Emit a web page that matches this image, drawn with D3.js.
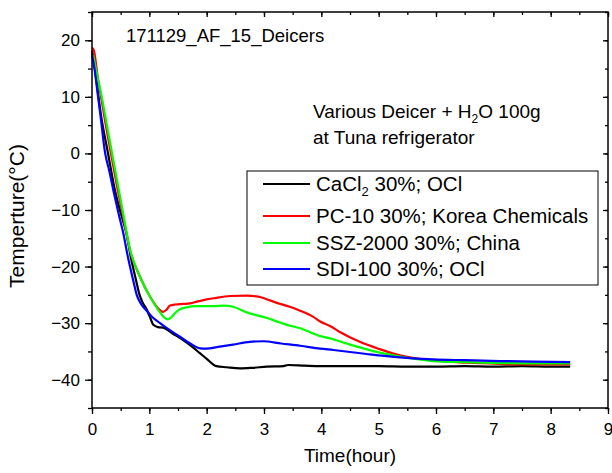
<!DOCTYPE html>
<html><head><meta charset="utf-8">
<script src="https://cdn.jsdelivr.net/npm/d3@7"></script>
<style>
body{margin:0;background:#fff;}
text{font-family:"Liberation Sans",Arial,sans-serif;fill:#000;}
</style></head>
<body><svg id="c" width="612" height="473"></svg>
<script>
// ---- data ----
const xTicks = [0,1,2,3,4,5,6,7,8,9];
const yTicks = [-40,-30,-20,-10,0,10,20];
const seriesNames = ["CaCl2 30%; OCl","PC-10 30%; Korea Chemicals","SSZ-2000 30%; China","SDI-100 30%; OCl"];
const seriesColors = ["#000000","#ff0000","#00ff00","#0000ff"];

const blackTime = [0,0.05,0.1,0.15,0.28,0.4,0.5,0.6,0.68,0.77,0.83,0.88,0.95,1.01,1.07,1.15,1.24,1.4,1.59,1.75,1.88,2.0,2.17,2.35,2.58,2.8,3.05,3.34,3.42,3.7,3.98,4.5,5.0,5.5,6.0,6.5,7.0,7.5,8.0,8.34];
const blackTemp = [18.2,15,11,7.2,0,-6.5,-10.5,-14.1,-18.5,-22.5,-25,-26.3,-27.5,-28.9,-30.3,-30.7,-30.8,-31.8,-33,-34.2,-35.3,-36.3,-37.6,-37.8,-38.0,-37.9,-37.7,-37.6,-37.4,-37.5,-37.6,-37.6,-37.6,-37.7,-37.7,-37.6,-37.7,-37.6,-37.7,-37.7];

const redTime = [0,0.03,0.1,0.157,0.25,0.33,0.45,0.55,0.663,0.837,1.01,1.186,1.24,1.3,1.36,1.45,1.6,1.71,1.83,2.0,2.12,2.41,2.7,2.9,3.0,3.28,3.45,3.63,3.86,3.98,4.15,4.33,4.67,5.02,5.37,5.95,6.54,7.12,7.7,8.34];
const redTemp = [18.7,18.3,13.5,10,4.5,0,-6.5,-11.5,-17.1,-21.8,-25.3,-27.7,-28.0,-27.6,-26.9,-26.7,-26.6,-26.5,-26.2,-25.8,-25.6,-25.2,-25.15,-25.3,-25.6,-26.6,-27.1,-27.8,-28.9,-29.7,-30.5,-31.6,-33.3,-34.6,-35.7,-36.6,-37.0,-37.2,-37.3,-37.3];

const greenTime = [0.02,0.1,0.17,0.26,0.35,0.45,0.55,0.663,0.837,1.01,1.15,1.25,1.32,1.38,1.45,1.535,1.65,1.83,2.12,2.29,2.46,2.7,3.05,3.28,3.4,3.63,3.98,4.15,4.5,5.02,5.55,5.95,6.5,7.12,7.7,8.34];
const greenTemp = [17.4,13.3,10,5,0,-5.5,-11,-17,-21.8,-25.3,-27.6,-28.9,-29.35,-29,-28.2,-27.55,-27.2,-27.0,-27.0,-26.9,-27.1,-28.1,-29.1,-29.9,-30.3,-30.9,-32.3,-32.7,-33.8,-35.2,-36.2,-36.7,-36.9,-37.05,-37.1,-37.1];

const blueTime = [0,0.05,0.1,0.15,0.23,0.3,0.372,0.46,0.546,0.63,0.72,0.78,0.837,0.9,0.954,1.05,1.186,1.35,1.535,1.7,1.884,2.0,2.2,2.46,2.75,2.99,3.3,3.63,3.98,4.21,4.5,4.79,5.1,5.37,5.95,6.5,7.12,7.7,8.34];
const blueTemp = [17.5,14.5,10.5,6.5,0,-3,-6.5,-10.5,-14.1,-18.5,-22.5,-25,-26.3,-27.2,-27.8,-28.9,-30,-31.2,-32.4,-33.5,-34.45,-34.5,-34.2,-33.8,-33.3,-33.2,-33.6,-34.0,-34.5,-34.75,-35.1,-35.45,-35.8,-36.04,-36.4,-36.55,-36.7,-36.8,-36.9];

const series = [
  {time: blackTime, temp: blackTemp},
  {time: redTime, temp: redTemp},
  {time: greenTime, temp: greenTemp},
  {time: blueTime, temp: blueTemp}
];

// ---- layout ----
const L = 92, R = 608, T = 12, B = 408;
const svg = d3.select("#c");
const x = d3.scaleLinear().domain([0,9]).range([L,R]);
const y = d3.scaleLinear().domain([-45,25]).range([B,T]);

const minorX = d3.range(0,9.01,0.5);
const minorY = d3.range(-45,25.01,5);

// minor ticks
svg.append("g").attr("transform",`translate(0,${B})`)
  .call(d3.axisBottom(x).tickValues(minorX).tickSize(3).tickFormat(""))
  .call(g=>g.select(".domain").remove());
svg.append("g").attr("transform",`translate(${L},0)`)
  .call(d3.axisLeft(y).tickValues(minorY).tickSize(4).tickFormat(""))
  .call(g=>g.select(".domain").remove());
svg.append("g").attr("transform",`translate(0,${T})`)
  .call(d3.axisTop(x).tickValues(minorX).tickSize(-3).tickFormat(""))
  .call(g=>g.select(".domain").remove());
svg.append("g").attr("transform",`translate(${R},0)`)
  .call(d3.axisRight(y).tickValues(minorY).tickSize(-3).tickFormat(""))
  .call(g=>g.select(".domain").remove());

// major ticks
const gx = svg.append("g").attr("transform",`translate(0,${B})`)
  .call(d3.axisBottom(x).tickValues(xTicks).tickSize(6).tickPadding(9).tickFormat(d3.format("d")));
gx.select(".domain").remove();
const gy = svg.append("g").attr("transform",`translate(${L},0)`)
  .call(d3.axisLeft(y).tickValues(yTicks).tickSize(7).tickPadding(5).tickFormat(d3.format("d")));
gy.select(".domain").remove();
svg.append("g").attr("transform",`translate(0,${T})`)
  .call(d3.axisTop(x).tickValues(xTicks).tickSize(-5).tickFormat(""))
  .call(g=>g.select(".domain").remove());
svg.append("g").attr("transform",`translate(${R},0)`)
  .call(d3.axisRight(y).tickValues(yTicks).tickSize(-5).tickFormat(""))
  .call(g=>g.select(".domain").remove());
svg.selectAll(".tick line").attr("stroke","#000").attr("stroke-width",1.3);
svg.selectAll(".tick text").attr("font-size",17).attr("font-family","Liberation Sans, Arial, sans-serif");

// curves
const line = d3.line().x(d=>x(d[0])).y(d=>y(d[1])).curve(d3.curveMonotoneX);
series.forEach((s,i)=>{
  const pts = s.time.map((t,k)=>[t,s.temp[k]]);
  svg.append("path").datum(pts).attr("d",line)
    .attr("fill","none").attr("stroke",seriesColors[i]).attr("stroke-width",2.2)
    .attr("stroke-linejoin","round");
});

// frame
svg.append("rect").attr("x",L).attr("y",T).attr("width",R-L).attr("height",B-T)
  .attr("fill","none").attr("stroke","#000").attr("stroke-width",1.5);

// axis titles
svg.append("text").attr("x",(L+R)/2).attr("y",462).attr("text-anchor","middle")
  .attr("font-size",19).text("Time(hour)");
svg.append("text").attr("transform","translate(24,216) rotate(-90)").attr("text-anchor","middle")
  .attr("font-size",21).text("Temperture(°C)");

// title text
svg.append("text").attr("x",126).attr("y",42).attr("font-size",18.5).text("171129_AF_15_Deicers");

// annotation
const a1 = svg.append("text").attr("x",313).attr("y",118).attr("font-size",19);
a1.append("tspan").text("Various Deicer + H");
a1.append("tspan").attr("font-size",12).attr("dy",5).text("2");
a1.append("tspan").attr("dy",-5).text("O 100g");
svg.append("text").attr("x",313).attr("y",144).attr("font-size",19).text("at Tuna refrigerator");

// legend
svg.append("rect").attr("x",247).attr("y",171).attr("width",351).attr("height",114)
  .attr("fill","#fff").attr("stroke","#000").attr("stroke-width",1);
const rowY = [184,216,243,269];
seriesNames.forEach((n,i)=>{
  svg.append("line").attr("x1",263).attr("x2",310).attr("y1",rowY[i]).attr("y2",rowY[i])
    .attr("stroke",seriesColors[i]).attr("stroke-width",2);
  const t = svg.append("text").attr("x",316).attr("y",rowY[i]+7).attr("font-size",20.5);
  if(i===0){
    t.append("tspan").text("CaCl");
    t.append("tspan").attr("font-size",13).attr("dy",5).text("2");
    t.append("tspan").attr("dy",-5).text(" 30%; OCl");
  } else t.text(n);
});
</script></body></html>
